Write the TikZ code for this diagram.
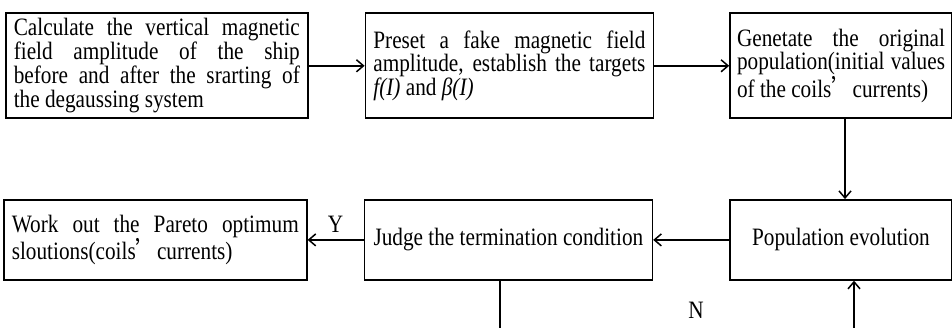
\documentclass[tikz,border=0pt]{standalone}
\usepackage{fontspec}
\setmainfont{Liberation Serif}[FakeStretch=0.85]
\newfontfamily\cjk{Noto Sans CJK SC}[FakeStretch=0.85]
\usetikzlibrary{arrows.meta, positioning}

\begin{document}
\begin{tikzpicture}[x=1pt, y=-1pt,
  stage/.style={rectangle, draw, line width=1.6pt, inner xsep=8pt, inner ysep=1pt, font=\fontsize{25}{22.7}\selectfont},
  flow/.style={line width=1.5pt, -{Straight Barb[length=7pt, width=12pt, line width=1.5pt]}},
  mark label/.style={font=\fontsize{25}{22.7}\selectfont, inner sep=1pt},
]
\useasboundingbox (0,0) rectangle (952,328);
\node[stage, minimum height=105pt, text width=286pt, align=justify, anchor=north west] (calc) at (5,12.5) {Calculate the vertical magnetic\linebreak field amplitude of the ship\linebreak before and after the srarting of\linebreak the degaussing system};
\node[stage, minimum height=105pt, text width=272pt, align=justify, right=56pt of calc] (preset) {Preset a fake magnetic field\linebreak amplitude, establish the targets\linebreak \textit{f(I)} and \textit{β(I)}};
\node[stage, minimum height=105pt, text width=208pt, inner xsep=7pt, align=justify, right=75pt of preset] (orig) {Genetate the original\linebreak population(initial values\linebreak of the coils{\cjk ’}currents)};
\node[stage, minimum height=80pt, minimum width=222pt, below=80pt of orig] (evol) {Population evolution};
\node[stage, minimum height=80pt, minimum width=288pt, left=76pt of evol] (judge) {Judge the termination condition};
\node[stage, minimum height=80pt, text width=287pt, align=justify, left=56pt of judge] (pareto) {Work out the Pareto optimum\linebreak sloutions(coils{\cjk ’}currents)};
\coordinate (nl) at (500,328);
\coordinate (nr) at (854,328);
\draw[flow] (calc) -- (preset);
\draw[flow] (preset) -- (orig);
\draw[flow] ([xshift=4pt]orig.south) -- ([xshift=4pt]evol.north);
\draw[flow] (evol) -- (judge);
\draw[flow] (judge) -- node[mark label, above=6pt] (y) {Y} (pareto);
\draw[line width=1.5pt] (judge.south -| nl) -- (nl);
\draw[flow] (nr) -- (nr |- evol.south);
\node[mark label] (n) at (696,310) {N};
\end{tikzpicture}
\end{document}
